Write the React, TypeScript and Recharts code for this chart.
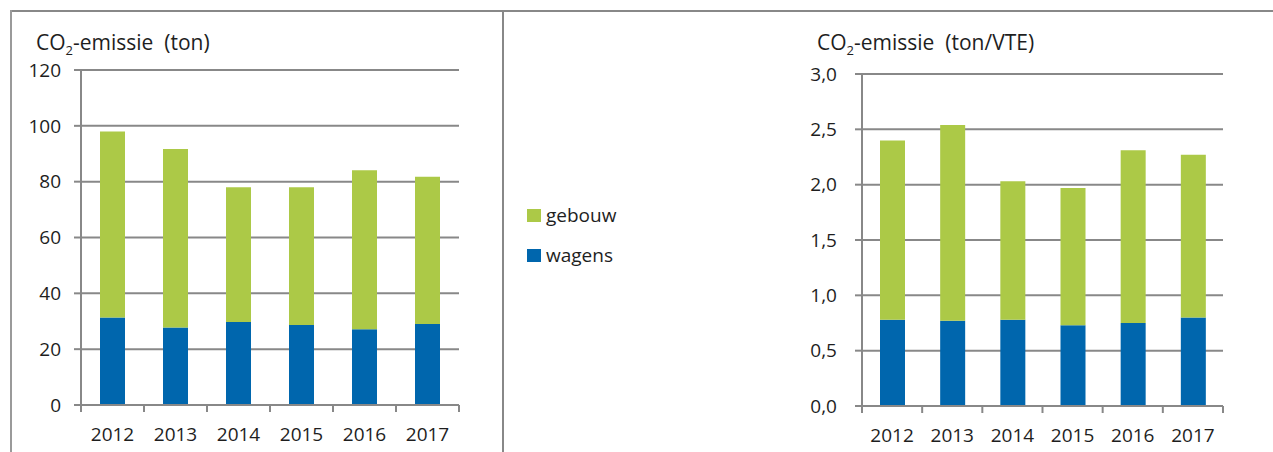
import React from 'react';
import { BarChart, Bar, XAxis, YAxis, CartesianGrid, Legend } from 'recharts';

const years = ['2012', '2013', '2014', '2015', '2016', '2017'];
const tonWagens = [31.3, 27.8, 29.7, 28.7, 27.1, 29.0];
const tonGebouw = [66.7, 63.9, 48.3, 49.3, 57.0, 52.8];
const vteWagens = [0.78, 0.77, 0.78, 0.73, 0.75, 0.8];
const vteGebouw = [1.62, 1.77, 1.25, 1.24, 1.56, 1.47];
const tonTicks = [0, 20, 40, 60, 80, 100, 120];
const vteTicks = [0, 0.5, 1.0, 1.5, 2.0, 2.5, 3.0];

const tonData = years.map((y, i) => ({ year: y, wagens: tonWagens[i], gebouw: tonGebouw[i] }));
const vteData = years.map((y, i) => ({ year: y, wagens: vteWagens[i], gebouw: vteGebouw[i] }));

const GREEN = '#ACC947';
const BLUE = '#0066AD';
const GRAY = '#888888';
const TEXT = '#1e1e1e';
const FONT = '"Open Sans", sans-serif';

const makeXTick = (band: number) => (props: any) => {
  const { x, y, payload, index, visibleTicksCount } = props;
  const half = band / 2;
  return (
    <g>
      <line x1={x - half} y1={y} x2={x - half} y2={y + 7} stroke={GRAY} strokeWidth={2} />
      {index === visibleTicksCount - 1 && (
        <line x1={x + half} y1={y} x2={x + half} y2={y + 7} stroke={GRAY} strokeWidth={2} />
      )}
      <text x={x} y={y + 36} textAnchor="middle" fill={TEXT} fontSize={19} fontFamily={FONT}>
        {payload.value}
      </text>
    </g>
  );
};

const legendContent = (props: any) => {
  const items = [...(props.payload || [])].sort((a: any, b: any) =>
    String(a.value).localeCompare(String(b.value))
  );
  return (
    <div style={{ fontFamily: FONT, fontSize: 19, color: TEXT }}>
      {items.map((it: any, i: number) => (
        <div
          key={it.value}
          style={{ display: 'flex', alignItems: 'center', height: 24, marginTop: i === 0 ? 0 : 16 }}
        >
          <span style={{ display: 'inline-block', width: 14, height: 13, background: it.color, marginRight: 5 }} />
          <span style={{ lineHeight: '24px' }}>{it.value}</span>
        </div>
      ))}
    </div>
  );
};

const Title = ({ left, unit }: { left: number; unit: string }) => (
  <div
    style={{
      position: 'absolute',
      left,
      top: 28,
      fontFamily: FONT,
      fontSize: 21,
      color: TEXT,
      whiteSpace: 'pre',
      lineHeight: '28px',
    }}
  >
    CO<sub style={{ fontSize: 13, verticalAlign: 'baseline', position: 'relative', top: 5 }}>2</sub>
    {'-emissie  (' + unit + ')'}
  </div>
);

export default function App() {
  return (
    <div style={{ position: 'absolute', left: 0, top: 0, width: 1273, height: 452, background: '#fff', overflow: 'hidden' }}>
      <div style={{ position: 'absolute', left: 10, top: 10, width: 1263, height: 2, background: GRAY }} />
      <div style={{ position: 'absolute', left: 10, top: 10, width: 2, height: 442, background: '#9a9a9a' }} />
      <div style={{ position: 'absolute', left: 502, top: 10, width: 2, height: 442, background: GRAY }} />

      <div style={{ position: 'absolute', left: 0, top: 0 }}>
        <BarChart
          width={760}
          height={452}
          data={tonData}
          margin={{ top: 70, right: 301, bottom: 17, left: 0 }}
          barSize={25}
        >
          <CartesianGrid vertical={false} stroke={GRAY} strokeWidth={2} />
          <XAxis
            dataKey="year"
            height={30}
            axisLine={{ stroke: GRAY, strokeWidth: 2 }}
            tickLine={false}
            tickSize={0}
            tickMargin={0}
            interval={0}
            tick={makeXTick(378 / 6)}
          />
          <YAxis
            width={81}
            domain={[0, 120]}
            ticks={tonTicks}
            interval={0}
            axisLine={{ stroke: GRAY, strokeWidth: 2 }}
            tickLine={{ stroke: GRAY, strokeWidth: 2 }}
            tickSize={7}
            tickMargin={13}
            tick={{ fill: TEXT, fontSize: 19, fontFamily: FONT }}
          />
          <Legend
            layout="vertical"
            align="center"
            verticalAlign="middle"
            content={legendContent}
            wrapperStyle={{ left: 527, top: 203, width: 150 }}
          />
          <Bar dataKey="wagens" name="wagens" stackId="a" fill={BLUE} isAnimationActive={false} />
          <Bar dataKey="gebouw" name="gebouw" stackId="a" fill={GREEN} isAnimationActive={false} />
        </BarChart>
      </div>

      <div style={{ position: 'absolute', left: 760, top: 0 }}>
        <BarChart
          width={513}
          height={452}
          data={vteData}
          margin={{ top: 74, right: 50, bottom: 16, left: 0 }}
          barSize={25}
        >
          <CartesianGrid vertical={false} stroke={GRAY} strokeWidth={2} />
          <XAxis
            dataKey="year"
            height={30}
            axisLine={{ stroke: GRAY, strokeWidth: 2 }}
            tickLine={false}
            tickSize={0}
            tickMargin={0}
            interval={0}
            tick={makeXTick(361 / 6)}
          />
          <YAxis
            width={102}
            domain={[0, 3]}
            ticks={vteTicks}
            interval={0}
            axisLine={{ stroke: GRAY, strokeWidth: 2 }}
            tickLine={{ stroke: GRAY, strokeWidth: 2 }}
            tickSize={7}
            tickMargin={18}
            tickFormatter={(v: number) => v.toFixed(1).replace('.', ',')}
            tick={{ fill: TEXT, fontSize: 19, fontFamily: FONT }}
          />
          <Bar dataKey="wagens" name="wagens" stackId="a" fill={BLUE} isAnimationActive={false} />
          <Bar dataKey="gebouw" name="gebouw" stackId="a" fill={GREEN} isAnimationActive={false} />
        </BarChart>
      </div>

      <Title left={36} unit="ton" />
      <Title left={817} unit="ton/VTE" />
    </div>
  );
}
